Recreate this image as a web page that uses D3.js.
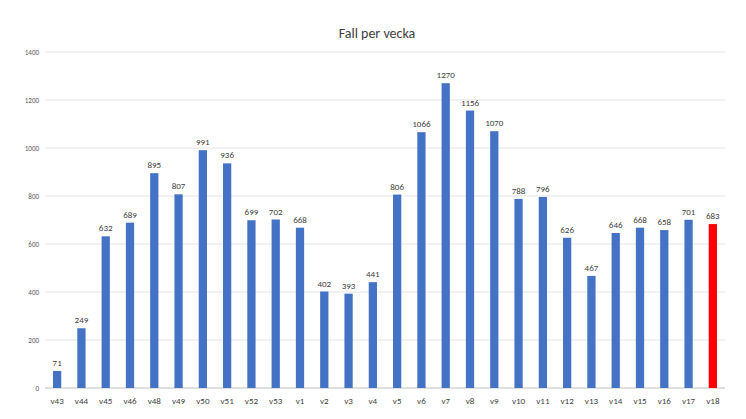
<!DOCTYPE html><html><head><meta charset="utf-8">
<script src="https://cdn.jsdelivr.net/npm/d3@7"></script>
<style>body{margin:0;background:#fff}</style></head><body>
<svg id="c" width="746" height="419"></svg>
<script>
const categories=["v43","v44","v45","v46","v48","v49","v50","v51","v52","v53","v1","v2","v3","v4","v5","v6","v7","v8","v9","v10","v11","v12","v13","v14","v15","v16","v17","v18"];
const values=[71,249,632,689,895,807,991,936,699,702,668,402,393,441,806,1066,1270,1156,1070,788,796,626,467,646,668,658,701,683];
const yTicks=[0,200,400,600,800,1000,1200,1400];
const svg=d3.select("#c");
const x=d3.scaleBand().domain(categories).range([45,725]).paddingInner(0.66).paddingOuter(0.33);
const y=d3.scaleLinear().domain([0,1400]).range([388,52]);
const font="Calibri, Carlito, 'Liberation Sans', sans-serif";
svg.append("g").selectAll("line").data(yTicks).join("line")
 .attr("x1",45).attr("x2",725).attr("y1",d=>y(d)).attr("y2",d=>y(d))
 .attr("stroke",d=>d===0?"#bfbfbf":"#e3e3e3").attr("stroke-width",1);
svg.append("g").selectAll("text").data(yTicks).join("text")
 .attr("x",39).attr("y",d=>y(d)+3).attr("text-anchor","end").attr("font-size",7).attr("fill","#595959").attr("font-family",font).text(d=>d);
svg.append("g").selectAll("rect").data(values).join("rect")
 .attr("x",(d,i)=>x(categories[i])).attr("width",x.bandwidth())
 .attr("y",d=>y(d)).attr("height",d=>y(0)-y(d))
 .attr("fill",(d,i)=>i===values.length-1?"#ff0000":"#4472c4");
svg.append("g").selectAll("text").data(values).join("text")
 .attr("x",(d,i)=>x(categories[i])+x.bandwidth()/2).attr("y",d=>y(d)-5)
 .attr("text-anchor","middle").attr("font-size",9).attr("fill","#404040").attr("font-family",font).text(d=>d);
svg.append("g").selectAll("text").data(categories).join("text")
 .attr("x",d=>x(d)+x.bandwidth()/2).attr("y",404)
 .attr("text-anchor","middle").attr("font-size",9).attr("fill","#404040").attr("font-family",font).text(d=>d);
svg.append("text").attr("x",377).attr("y",38).attr("text-anchor","middle").attr("font-size",14).attr("fill","#404040").attr("font-family",font).text("Fall per vecka");
</script></body></html>
